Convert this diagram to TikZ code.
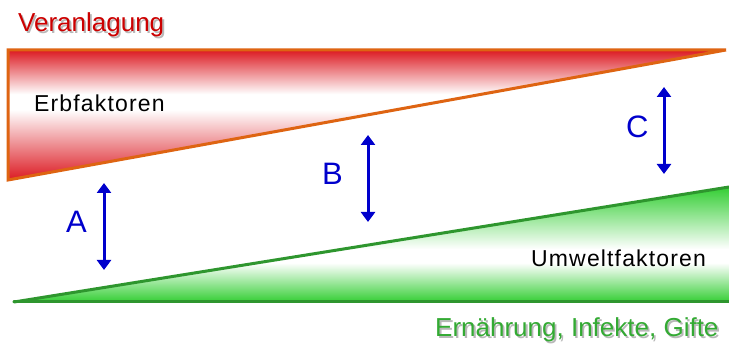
\documentclass[tikz,border=0pt]{standalone}
\usepackage{fontspec}
\setmainfont{Liberation Sans}
\usetikzlibrary{arrows.meta,shadings}
\definecolor{myred}{RGB}{220,26,34}
\definecolor{myorange}{RGB}{222,100,18}
\definecolor{mygreen}{RGB}{52,206,52}
\definecolor{mygreenline}{RGB}{46,150,46}
\definecolor{myblue}{RGB}{0,0,204}
\definecolor{titlered}{RGB}{204,0,0}
\definecolor{titlegreen}{RGB}{51,170,51}
\pgfdeclareverticalshading{redsh}{100bp}{color(0bp)=(myred); color(25bp)=(myred); color(52bp)=(white); color(58bp)=(white); color(75bp)=(myred); color(100bp)=(myred)}
\pgfdeclareverticalshading{greensh}{100bp}{color(0bp)=(mygreen); color(25bp)=(mygreen); color(42bp)=(white); color(48bp)=(white); color(75bp)=(mygreen); color(100bp)=(mygreen)}
\newcommand{\shadowtext}[1]{\rlap{\kern1.8pt\raisebox{-1.8pt}{\color{black!28}#1}}#1}
\tikzset{
  dblarrow/.style={myblue, line width=3pt, {Triangle[width=14pt,length=10pt]}-{Triangle[width=14pt,length=10pt]}},
  letterlbl/.style={myblue, inner sep=0pt, anchor=base west, font=\fontsize{31}{31}\selectfont},
  boxlbl/.style={black, inner sep=0pt, anchor=base west, font=\fontsize{23}{23}\selectfont\addfontfeature{LetterSpace=5}},
  titlelbl/.style={inner sep=0pt, anchor=base west, font=\fontsize{26}{26}\selectfont},
}
\begin{document}
\begin{tikzpicture}[x=1pt,y=-1pt]
\useasboundingbox (0,0) rectangle (729,344);
% red trapezoid (Erbfaktoren)
\coordinate (rTL) at (8,50);
\coordinate (rTR) at (726,50);
\coordinate (rBL) at (8,180);
\shade[shading=redsh] (rTL) -- (rTR) -- (rBL) -- cycle;
\draw[myorange, line width=3pt, line join=miter] (rTL) -- (rTR) -- (rBL) -- cycle;
% green triangle (Umweltfaktoren)
\coordinate (gL) at (14,302);
\coordinate (gBR) at (729,302);
\coordinate (gTR) at (729,187);
\shade[shading=greensh] (gL) -- (gTR) -- (gBR) -- cycle;
\draw[mygreenline, line width=3pt, line cap=round] (gL) -- (gTR);
\draw[mygreenline, line width=3pt, line cap=round] (gL) -- (gBR);
% arrows
\coordinate (aT) at (104,183); \coordinate (aB) at (104,270);
\coordinate (bT) at (368,135); \coordinate (bB) at (368,222);
\coordinate (cT) at (664,87);  \coordinate (cB) at (664,174);
\draw[dblarrow] (aT) -- (aB);
\draw[dblarrow] (bT) -- (bB);
\draw[dblarrow] (cT) -- (cB);
\node[letterlbl] (la) at (66,233) {A};
\node[letterlbl] (lb) at (322,185) {B};
\node[letterlbl] (lc) at (626,138) {C};
% labels
\node[boxlbl] (erb) at (34,112) {Erbfaktoren};
\node[boxlbl] (umw) at (531,267) {Umweltfaktoren};
% titles with shadow
\node[titlelbl, titlered] (ver) at (18,32) {\shadowtext{Veranlagung}};
\node[titlelbl, titlegreen] (ern) at (435,337) {\shadowtext{Ernährung, Infekte, Gifte}};
\end{tikzpicture}
\end{document}
